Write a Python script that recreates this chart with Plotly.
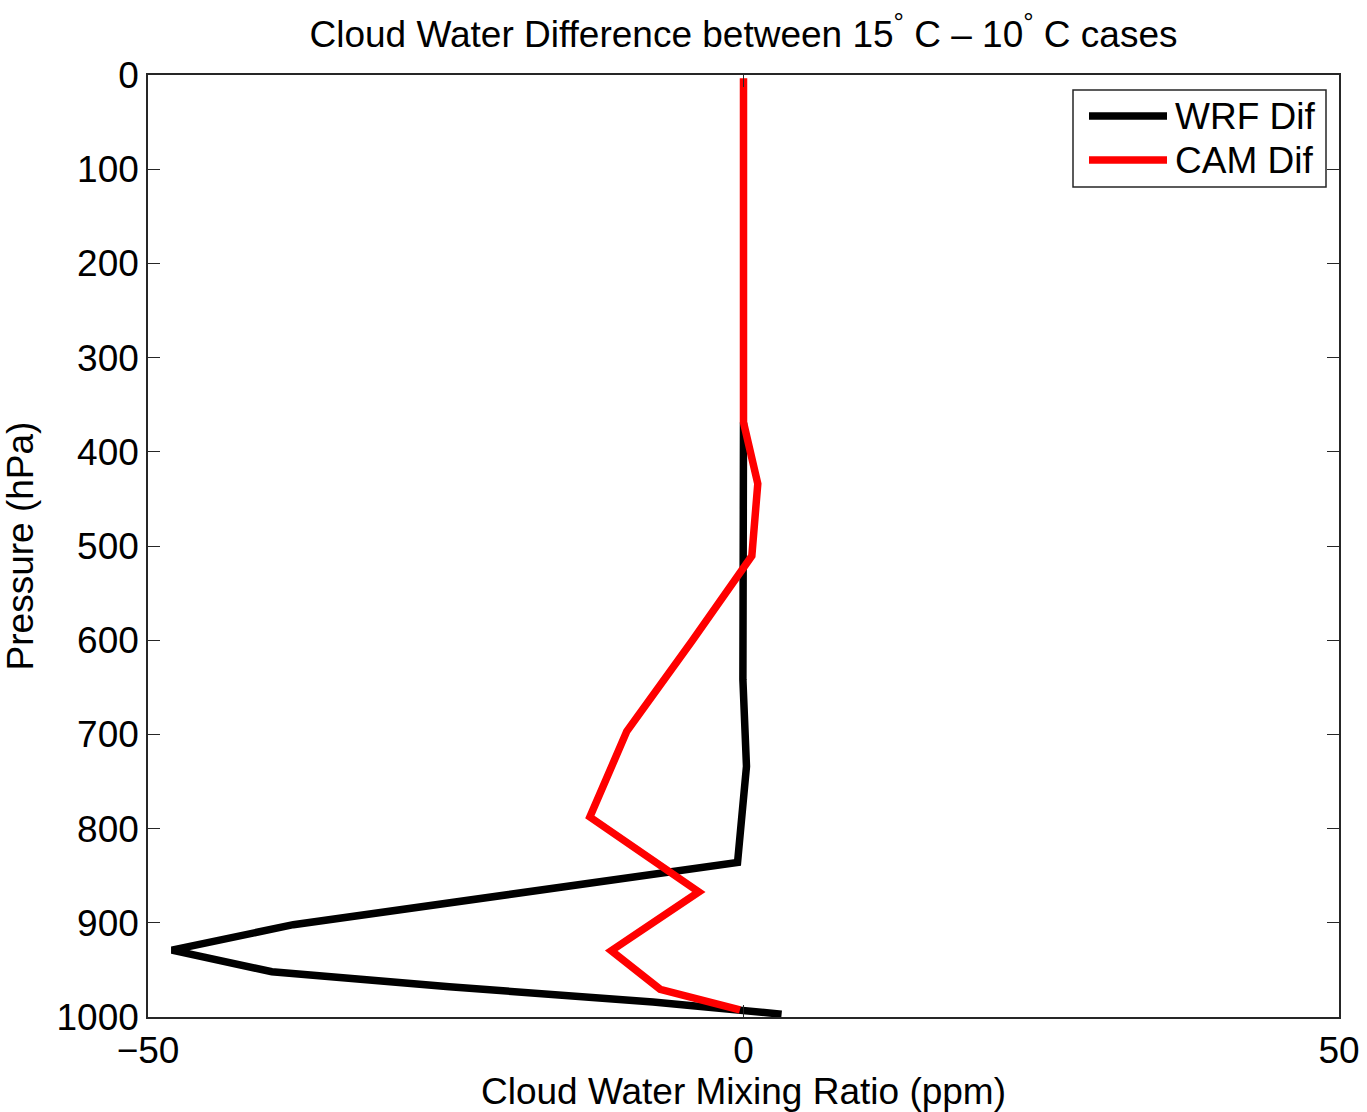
import plotly.graph_objects as go

# Pressure levels (hPa) and cloud water mixing ratio differences (ppm)
wrf_pressure = [368.8, 642.0, 734.0, 836.0, 902.0, 929.0, 952.0, 968.0, 984.0, 997.0]
wrf_dif = [0.0, -0.05, 0.25, -0.5, -37.8, -48.0, -39.6, -24.7, -7.6, 3.2]

cam_pressure = [3.54, 7.39, 13.97, 23.94, 37.23, 53.11, 70.06, 85.44, 100.51, 118.25,
                139.12, 163.66, 192.54, 226.51, 266.48, 313.50, 368.82, 433.90, 510.46,
                600.52, 696.80, 787.70, 867.16, 929.65, 970.55, 992.56]
cam_dif = [0.0, 0.0, 0.0, 0.0, 0.0, 0.0, 0.0, 0.0, 0.0, 0.0,
           0.0, 0.0, 0.0, 0.0, 0.0, 0.0, 0.0, 1.2, 0.7,
           -4.3, -9.8, -12.9, -3.75, -11.1, -7.0, -0.3]

x_ticks = [-50, 0, 50]
y_ticks = [0, 100, 200, 300, 400, 500, 600, 700, 800, 900, 1000]

series = [
    ("WRF Dif", wrf_dif, wrf_pressure, "#000000"),
    ("CAM Dif", cam_dif, cam_pressure, "#ff0000"),
]

FONT = "Liberation Sans, Arial, Helvetica, sans-serif"
FS = 37
W, H = 1367, 1112
ML, MR, MT, MB = 148, 28, 75, 95
PW, PH = W - ML - MR, H - MT - MB

fig = go.Figure()
for name, xv, yv, color in series:
    fig.add_trace(go.Scatter(
        x=xv, y=yv, mode="lines", name=name,
        line=dict(color=color, width=7.5),
        showlegend=False,
    ))

axis_common = dict(
    showgrid=False, zeroline=False, automargin=False,
    showline=True, linecolor="#262626", linewidth=1.5,
    mirror="ticks", ticks="inside", ticklen=12, tickwidth=1.2,
    tickcolor="#262626",
    tickfont=dict(family=FONT, size=FS, color="#000000"),
)

fig.update_xaxes(
    range=[-50, 50], tickvals=x_ticks,
    title=dict(text="Cloud Water Mixing Ratio (ppm)",
               font=dict(family=FONT, size=FS, color="#000000"), standoff=6),
    **axis_common,
)
fig.update_yaxes(
    range=[1000, 0], tickvals=y_ticks,
    title=dict(text="Pressure (hPa)",
               font=dict(family=FONT, size=FS, color="#000000"), standoff=14),
    **axis_common,
)


def px_to_paper_x(px):
    return (px - ML) / PW


def px_to_paper_y(py):
    return (H - MB - py) / PH


# Legend box drawn in paper space
shapes = [dict(
    type="rect", xref="paper", yref="paper",
    x0=px_to_paper_x(1073), x1=px_to_paper_x(1326),
    y0=px_to_paper_y(187), y1=px_to_paper_y(90),
    line=dict(color="#262626", width=1.5), fillcolor="#ffffff", layer="above",
)]
annotations = []
for i, (name, _, _, color) in enumerate(series):
    yc = px_to_paper_y(116 + 44 * i)
    shapes.append(dict(
        type="line", xref="paper", yref="paper",
        x0=px_to_paper_x(1089), x1=px_to_paper_x(1167), y0=yc, y1=yc,
        line=dict(color=color, width=7.5), layer="above",
    ))
    annotations.append(dict(
        text=name, xref="paper", yref="paper",
        x=px_to_paper_x(1173), y=yc, xanchor="left", yanchor="middle",
        showarrow=False, font=dict(family=FONT, size=FS, color="#000000"),
    ))

fig.update_layout(
    width=W, height=H,
    margin=dict(l=ML, r=MR, t=MT, b=MB),
    paper_bgcolor="#ffffff", plot_bgcolor="#ffffff",
    title=dict(
        text="Cloud Water Difference between 15<sup>°</sup> C – 10<sup>°</sup> C cases",
        x=0.5, xref="paper", xanchor="center",
        y=1 - 34 / H, yref="container", yanchor="middle",
        font=dict(family=FONT, size=FS, color="#000000"),
    ),
    shapes=shapes,
    annotations=annotations,
)

fig.write_html("out.html")
